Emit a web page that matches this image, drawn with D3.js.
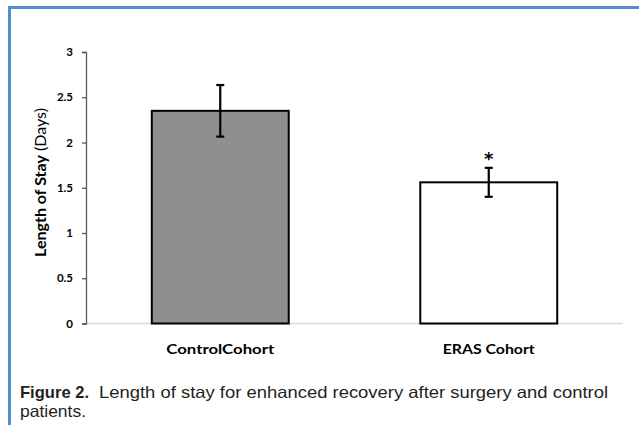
<!DOCTYPE html>
<html><head><meta charset="utf-8">
<script src="https://cdn.jsdelivr.net/npm/d3@7"></script>
<style>
html,body{margin:0;padding:0;background:#fff;}
svg{display:block;}
</style></head>
<body>
<svg id="c" width="639" height="425"></svg>
<script>
const categories = ["Control Cohort", "ERAS Cohort"];
const categoryLabels = ["ControlCohort", "ERAS Cohort"];
const values = [2.35, 1.56];
const errors = [0.285, 0.16];
const significant = [false, true];
const yTicks = [0, 0.5, 1, 1.5, 2, 2.5, 3];
const yTickLabels = ["0", "0.5", "1", "1.5", "2", "2.5", "3"];
const barFills = ["#8f8f8f", "#ffffff"];

const svg = d3.select("#c");
const chartFont = "Lato, 'Open Sans', sans-serif";

// frame lines (blue)
svg.append("rect").attr("x", 8).attr("y", 6).attr("width", 631).attr("height", 3).attr("fill", "#4f8ed3");
svg.append("rect").attr("x", 8).attr("y", 6).attr("width", 3).attr("height", 419).attr("fill", "#4f8ed3");

const x = d3.scaleBand().domain(categories).range([86, 623]).paddingInner(0.49).paddingOuter(0.245);
const y = d3.scaleLinear().domain([0, 3]).range([323.5, 52]);

// x axis baseline
svg.append("line").attr("x1", 86).attr("x2", 623).attr("y1", y(0)).attr("y2", y(0))
  .attr("stroke", "#d9d9d9").attr("stroke-width", 1.5);

// y axis
const yAxis = d3.axisLeft(y).tickValues(yTicks).tickSize(4).tickPadding(9)
  .tickFormat((d, i) => yTickLabels[i]);
const gy = svg.append("g").attr("transform", "translate(86,0)").call(yAxis);
gy.select(".domain").attr("stroke", "#595959").attr("stroke-width", 1.3);
gy.selectAll(".tick line").attr("stroke", "#595959").attr("stroke-width", 1.3);
gy.selectAll(".tick text").attr("font-family", chartFont).attr("font-weight", "bold")
  .attr("font-size", 11.5).attr("fill", "#000");

// bars
svg.selectAll("rect.bar").data(categories).enter().append("rect").attr("class", "bar")
  .attr("x", d => x(d)).attr("width", x.bandwidth())
  .attr("y", (d, i) => y(values[i])).attr("height", (d, i) => y(0) - y(values[i]))
  .attr("fill", (d, i) => barFills[i]).attr("stroke", "#000").attr("stroke-width", 2);

// error bars
const eg = svg.selectAll("g.err").data(categories).enter().append("g").attr("class", "err");
eg.append("line").attr("x1", d => x(d) + x.bandwidth() / 2).attr("x2", d => x(d) + x.bandwidth() / 2)
  .attr("y1", (d, i) => y(values[i] + errors[i])).attr("y2", (d, i) => y(values[i] - errors[i]))
  .attr("stroke", "#000").attr("stroke-width", 2.2);
[1, -1].forEach(s => {
  eg.append("line").attr("x1", d => x(d) + x.bandwidth() / 2 - 4).attr("x2", d => x(d) + x.bandwidth() / 2 + 4)
    .attr("y1", (d, i) => y(values[i] + s * errors[i])).attr("y2", (d, i) => y(values[i] + s * errors[i]))
    .attr("stroke", "#000").attr("stroke-width", 2.2);
});

// significance asterisk
svg.selectAll("text.sig").data(categories.filter((d, i) => significant[i])).enter().append("text")
  .attr("class", "sig")
  .attr("x", d => x(d) + x.bandwidth() / 2)
  .attr("y", d => y(values[categories.indexOf(d)] + errors[categories.indexOf(d)]))
  .attr("dy", -3)
  .attr("text-anchor", "middle").attr("font-family", "'DejaVu Sans', sans-serif").attr("font-weight", "bold")
  .attr("font-size", 18).attr("fill", "#000").text("*");

// category labels
const catWidths = [108, 92];
svg.selectAll("text.cat").data(categories).enter().append("text").attr("class", "cat")
  .attr("x", (d, i) => x(d) + x.bandwidth() / 2 - catWidths[i] / 2).attr("y", 354)
  .attr("font-family", chartFont).attr("font-weight", "bold")
  .attr("textLength", (d, i) => catWidths[i]).attr("lengthAdjust", "spacingAndGlyphs")
  .attr("font-size", 14).attr("fill", "#000").text((d, i) => categoryLabels[i]);

// y axis title
const yt = svg.append("text").attr("transform", "translate(46,257) rotate(-90)")
  .attr("font-family", chartFont).attr("font-size", 14.5).attr("fill", "#000")
  .attr("textLength", 149).attr("lengthAdjust", "spacingAndGlyphs");
yt.append("tspan").attr("font-weight", "bold").text("Length of Stay");
yt.append("tspan").text(" (Days)");

// caption
const capFont = "'Liberation Sans', Arial, sans-serif";
svg.append("text").attr("x", 20).attr("y", 398)
  .attr("font-family", "'Liberation Sans Narrow','Liberation Sans', sans-serif").attr("font-weight", "bold")
  .attr("font-size", 16.5).attr("fill", "#231f20")
  .attr("textLength", 69).attr("lengthAdjust", "spacingAndGlyphs").text("Figure 2.");
svg.append("text").attr("x", 99).attr("y", 398)
  .attr("font-family", capFont).attr("font-size", 16.5).attr("fill", "#231f20")
  .attr("textLength", 509).attr("lengthAdjust", "spacingAndGlyphs")
  .text("Length of stay for enhanced recovery after surgery and control");
svg.append("text").attr("x", 20).attr("y", 417)
  .attr("font-family", capFont).attr("font-size", 16.5).attr("fill", "#231f20")
  .attr("textLength", 66).attr("lengthAdjust", "spacingAndGlyphs")
  .text("patients.");
</script>
</body></html>
